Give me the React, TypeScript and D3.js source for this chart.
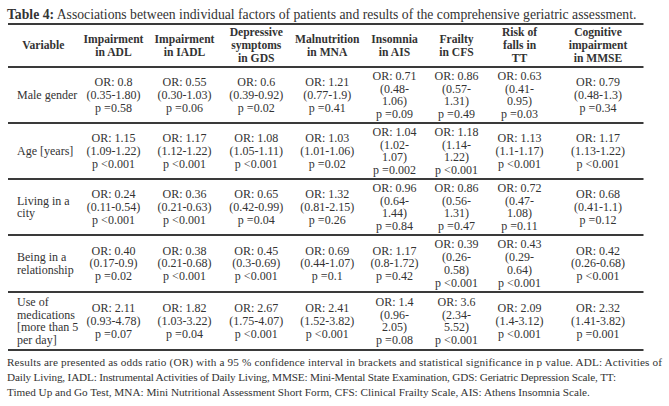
import React from "react";
import * as d3 from "d3";

const titleBold = "Table 4:";
const titleRest = " Associations between individual factors of patients and results of the comprehensive geriatric assessment.";

const headers: string[][] = [
  ["Variable"],
  ["Impairment", "in ADL"],
  ["Impairment", "in IADL"],
  ["Depressive", "symptoms", "in GDS"],
  ["Malnutrition", "in MNA"],
  ["Insomnia", "in AIS"],
  ["Frailty", "in CFS"],
  ["Risk of", "falls in", "TT"],
  ["Cognitive", "impairment", "in MMSE"],
];

const variables: string[][] = [
  ["Male gender"],
  ["Age [years]"],
  ["Living in a", "city"],
  ["Being in a", "relationship"],
  ["Use of", "medications", "[more than 5", "per day]"],
];

const orValues: string[][] = [
  ["0.8", "0.55", "0.6", "1.21", "0.71", "0.86", "0.63", "0.79"],
  ["1.15", "1.17", "1.08", "1.03", "1.04", "1.18", "1.13", "1.17"],
  ["0.24", "0.36", "0.65", "1.32", "0.96", "0.86", "0.72", "0.68"],
  ["0.40", "0.38", "0.45", "0.69", "1.17", "0.39", "0.43", "0.42"],
  ["2.11", "1.82", "2.67", "2.41", "1.4", "3.6", "2.09", "2.32"],
];

const ciValues: string[][] = [
  ["0.35-1.80", "0.30-1.03", "0.39-0.92", "0.77-1.9", "0.48-1.06", "0.57-1.31", "0.41-0.95", "0.48-1.3"],
  ["1.09-1.22", "1.12-1.22", "1.05-1.11", "1.01-1.06", "1.02-1.07", "1.14-1.22", "1.1-1.17", "1.13-1.22"],
  ["0.11-0.54", "0.21-0.63", "0.42-0.99", "0.81-2.15", "0.64-1.44", "0.56-1.31", "0.47-1.08", "0.41-1.1"],
  ["0.17-0.9", "0.21-0.68", "0.3-0.69", "0.44-1.07", "0.8-1.72", "0.26-0.58", "0.29-0.64", "0.26-0.68"],
  ["0.93-4.78", "1.03-3.22", "1.75-4.07", "1.52-3.82", "0.96-2.05", "2.34-5.52", "1.4-3.12", "1.41-3.82"],
];

const pValues: string[][] = [
  ["=0.58", "=0.06", "=0.02", "=0.41", "=0.09", "=0.49", "=0.03", "=0.34"],
  ["<0.001", "<0.001", "<0.001", "=0.02", "=0.002", "<0.001", "<0.001", "<0.001"],
  ["<0.001", "<0.001", "=0.04", "=0.26", "=0.84", "=0.47", "=0.11", "=0.12"],
  ["=0.02", "<0.001", "<0.001", "=0.1", "=0.42", "<0.001", "<0.001", "<0.001"],
  ["=0.07", "=0.04", "<0.001", "<0.001", "=0.08", "<0.001", "<0.001", "=0.001"],
];

const footnote: string[] = [
  "Results are presented as odds ratio (OR) with a 95 % confidence interval in brackets and statistical significance in p value. ADL: Activities of",
  "Daily Living, IADL: Instrumental Activities of Daily Living, MMSE: Mini-Mental State Examination, GDS: Geriatric Depression Scale, TT:",
  "Timed Up and Go Test, MNA: Mini Nutritional Assessment Short Form, CFS: Clinical Frailty Scale, AIS: Athens Insomnia Scale.",
];

// layout
const W = 669;
const H = 406;
const tableLeft = 8;
const colWidths = [70.5, 70, 72, 71.5, 70.5, 64, 60, 66, 91];
const narrowCols = [false, false, false, false, false, true, true, true, false];
const headerTop = 24;
const rowHeights = [43, 56, 56, 56, 57, 58];
const lineH = 12.9;
const fontBody = 12;
const fontHead = 11.6;
const textColor = "#333";
const ruleColor = "#3a3a3a";
const FONT = "'Liberation Serif'";
const footWidths: (number | undefined)[] = [655, 609, undefined];

export default function App() {
  const colEdges = [tableLeft, ...Array.from(d3.cumsum(colWidths), (v) => v + tableLeft)];
  const rowEdges = [headerTop, ...Array.from(d3.cumsum(rowHeights), (v) => v + headerTop)];
  const tableRight = colEdges[colEdges.length - 1];
  const colCenter = (i: number) => (colEdges[i] + colEdges[i + 1]) / 2;
  const rowMid = (i: number) => (rowEdges[i] + rowEdges[i + 1]) / 2;

  const yScale = d3.scaleLinear().domain([0, 1]).range([0, lineH]);

  const cellLines = (r: number, c: number): string[] => {
    const ci = ciValues[r][c];
    const lines = ["OR: " + orValues[r][c]];
    if (narrowCols[c + 1] && ci.length > 8) {
      const k = ci.indexOf("-");
      lines.push("(" + ci.slice(0, k + 1));
      lines.push(ci.slice(k + 1) + ")");
    } else {
      lines.push("(" + ci + ")");
    }
    lines.push("p " + pValues[r][c]);
    return lines;
  };

  const block = (lines: string[], cx: number, cy: number, anchor: "middle" | "start", key: string, bold = false, size = fontBody) => {
    const n = lines.length;
    const y0 = cy - yScale((n - 1) / 2) + size * 0.33;
    return (
      <text key={key} x={cx} y={y0} textAnchor={anchor} style={{ fontFamily: FONT, fontSize: size, fontWeight: bold ? 700 : 400 }} fill={textColor}>
        {lines.map((l, i) => (
          <tspan key={i} x={cx} y={y0 + yScale(i)}>{l}</tspan>
        ))}
      </text>
    );
  };

  return (
    <svg width={W} height={H} style={{ position: "absolute", left: 0, top: 0, background: "#fff", fontFamily: FONT }}>
      <rect width={W} height={H} fill="#fff" />
      <text x={7} y={18.5} style={{ fontFamily: FONT, fontSize: 13.7 }} fill={textColor}>
        <tspan fontWeight="bold">{titleBold}</tspan>
        <tspan>{titleRest}</tspan>
      </text>
      {rowEdges.map((y, i) => (
        <line key={"r" + i} x1={tableLeft} x2={tableRight} y1={y} y2={y} stroke={ruleColor} strokeWidth={2} />
      ))}
      {headers.map((h, c) => block(h, colCenter(c), rowMid(0), "middle", "h" + c, true, fontHead))}
      {variables.map((v, r) => block(v, tableLeft + 9, rowMid(r + 1), "start", "v" + r))}
      {orValues.map((row, r) =>
        row.map((_, c) => block(cellLines(r, c), colCenter(c + 1), rowMid(r + 1), "middle", `c${r}-${c}`))
      )}
      {footnote.map((f, i) => (
        <text
          key={"f" + i}
          x={7}
          y={rowEdges[rowEdges.length - 1] + 16 + i * 15.2}
          textLength={footWidths[i]}
          lengthAdjust={footWidths[i] ? "spacing" : undefined}
          style={{ fontFamily: FONT, fontSize: 11.2 }}
          fill={textColor}
        >
          {f}
        </text>
      ))}
    </svg>
  );
}
